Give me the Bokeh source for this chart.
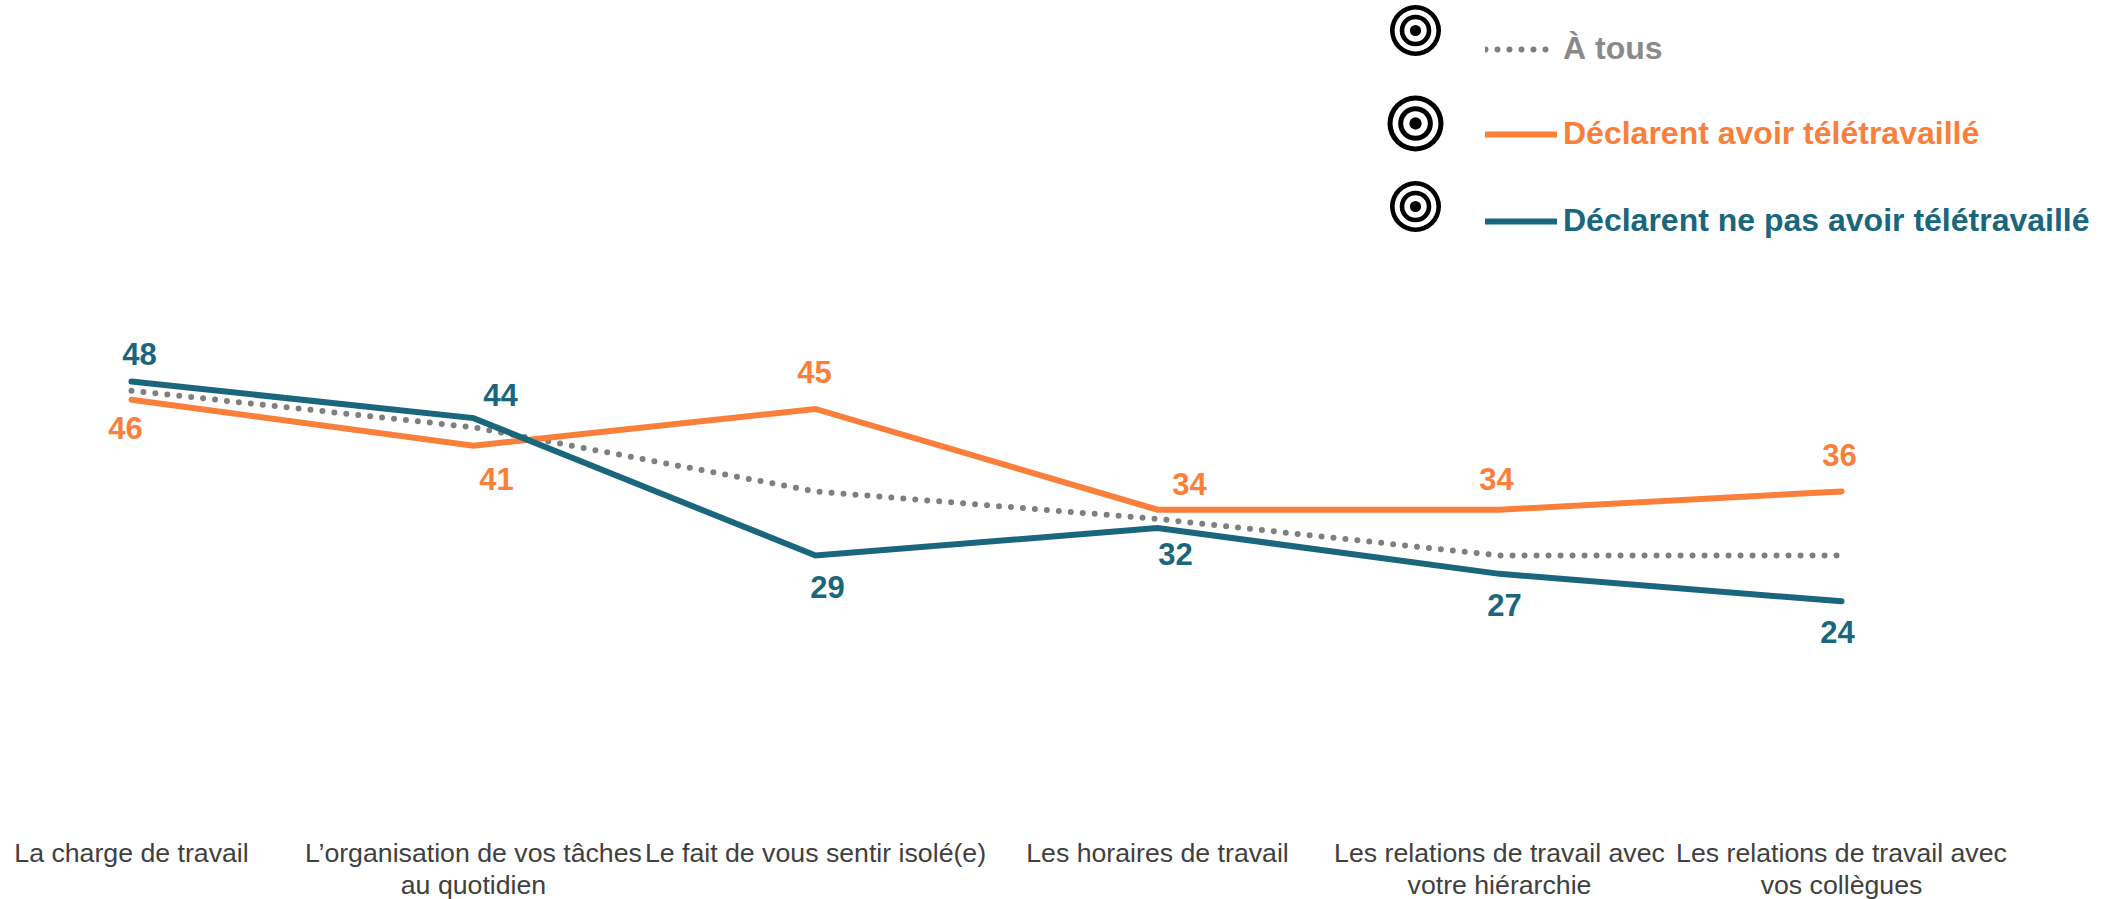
from bokeh.embed import file_html
from bokeh.resources import INLINE
from bokeh.plotting import figure
from bokeh.models import ColumnDataSource, Legend, LegendItem, FixedTicker, LinearAxis
from bokeh.core.properties import value

categories = ["La charge de travail", "L’organisation de vos tâches\nau quotidien",
              "Le fait de vous sentir isolé(e)", "Les horaires de travail",
              "Les relations de travail avec\nvotre hiérarchie",
              "Les relations de travail avec\nvos collègues"]
a_tous = [47, 43, 36, 33, 29, 29]
teletravail = [46, 41, 45, 34, 34, 36]
non_teletravail = [48, 44, 29, 32, 27, 24]

ORANGE, TEAL, GREY = "#F97F3B", "#1A667D", "#7F7F7F"
orange_dx = [-6, 23, -1, 32, -3, -2]
orange_dy = [28, 33, -37, -26, -31, -36]
teal_dx = [8, 27, 12, 18, 5, -4]
teal_dy = [-28, -23, 31, 26, 31, 31]

X0, STEP, Y48, UNIT = 131.0, 342.0, 381.0, 9.16
W, FH, BOTTOM = 2097, 818, 81
xs = list(range(len(categories)))

def data_x(px):
    return (px - X0) / STEP

def data_y(py):
    return 48 - (py - Y48) / UNIT

p = figure(width=W, height=FH + BOTTOM, frame_width=W, frame_height=FH,
           x_range=(data_x(0), data_x(W)), y_range=(data_y(FH), data_y(0)),
           output_backend="svg", toolbar_location=None, x_axis_location=None, y_axis_location=None,
           min_border_left=0, min_border_right=0, min_border_top=0, min_border_bottom=BOTTOM)
p.outline_line_color = None
p.xgrid.visible = False
p.ygrid.visible = False
p.background_fill_color = "white"

axis = LinearAxis(ticker=FixedTicker(ticks=xs),
                  major_label_overrides={i: c for i, c in enumerate(categories)})
axis.axis_line_color = None
axis.major_tick_line_color = None
axis.minor_tick_line_color = None
axis.major_label_text_font = "Liberation Sans"
axis.major_label_text_font_size = "26.7px"
axis.major_label_text_color = "#404040"
axis.major_label_standoff = 13
axis.major_label_text_line_height = 1.08
p.add_layout(axis, "below")

r_tous = p.line(xs, a_tous, line_color=GREY, line_width=6, line_dash="0 12", line_cap="round")
r_tele = p.line(xs, teletravail, line_color=ORANGE, line_width=6, line_cap="round", line_join="miter")
r_non = p.line(xs, non_teletravail, line_color=TEAL, line_width=6, line_cap="round", line_join="miter")

for vals, col, dx, dy in [(teletravail, ORANGE, orange_dx, orange_dy),
                          (non_teletravail, TEAL, teal_dx, teal_dy)]:
    src = ColumnDataSource(dict(x=xs, y=vals, t=[str(v) for v in vals], dx=dx, dy=dy))
    p.text("x", "y", text="t", source=src, x_offset="dx", y_offset="dy",
           text_color=col, text_font=value("Liberation Sans"), text_font_style="bold",
           text_font_size="31px", text_align="center", text_baseline="middle")

# targets
icon_x = [1415, 1415, 1415]
icon_y = [30, 123, 206]
icon_scale = [1.02, 1.12, 1.02]
for d, c in [(50, "black"), (41, "white"), (31, "black"), (22, "white"), (11, "black")]:
    p.scatter([data_x(v) for v in icon_x], [data_y(v) for v in icon_y],
              size=[d * s for s in icon_scale], marker="circle", fill_color=c, line_color=None)

def add_legend(label, rend, color, top):
    leg = Legend(items=[LegendItem(label=label, renderers=[rend])],
                 location=(1485, FH - top - 36), padding=0, margin=0, spacing=0,
                 glyph_width=72, glyph_height=36, label_height=36, label_standoff=6,
                 label_text_font="Liberation Sans", label_text_font_style="bold",
                 label_text_font_size="32px", label_text_color=color,
                 border_line_color=None, background_fill_alpha=0)
    p.add_layout(leg)

add_legend("À tous", r_tous, "#8A8A8A", 31)
add_legend("Déclarent avoir télétravaillé", r_tele, ORANGE, 116)
add_legend("Déclarent ne pas avoir télétravaillé", r_non, TEAL, 203)

open("out.html", "w").write(file_html(p, INLINE))
